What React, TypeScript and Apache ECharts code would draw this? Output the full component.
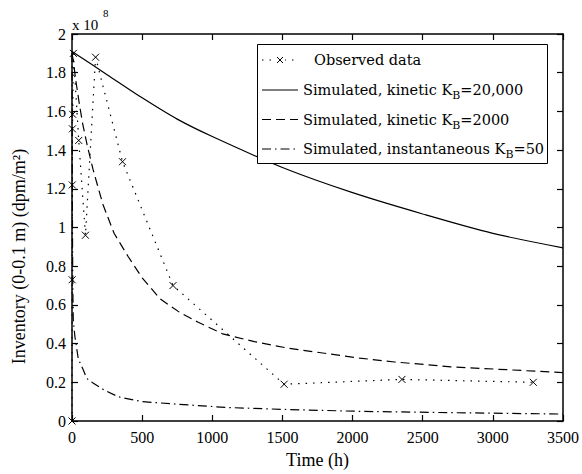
import React, { useEffect, useRef } from "react";
import * as echarts from "echarts";

// Values of the inventory are in units of 1e8 dpm/m^2
const xTicks = [0, 500, 1000, 1500, 2000, 2500, 3000, 3500];
const yTicks = [0, 0.2, 0.4, 0.6, 0.8, 1, 1.2, 1.4, 1.6, 1.8, 2];

const obsTime = [0, 1, 2, 3, 5, 10, 48, 96, 168, 360, 720, 1512, 2352, 3288];
const obsValue = [0, 0.73, 1.22, 1.51, 1.585, 1.9, 1.45, 0.96, 1.88, 1.34, 0.7, 0.19, 0.215, 0.2];

const k20000Time = [0, 250, 500, 750, 1000, 1500, 2000, 2500, 3000, 3500];
const k20000Value = [1.91, 1.79, 1.67, 1.56, 1.47, 1.31, 1.18, 1.07, 0.97, 0.895];

const k2000Time = [0, 10, 25, 50, 75, 110, 150, 220, 300, 400, 500, 630, 770, 900, 1075, 1300, 1550, 1800, 2050, 2300, 2700, 3100, 3500];
const k2000Value = [1.9, 1.86, 1.77, 1.65, 1.54, 1.42, 1.3, 1.12, 0.97, 0.85, 0.74, 0.63, 0.56, 0.51, 0.45, 0.41, 0.375, 0.35, 0.325, 0.305, 0.28, 0.265, 0.25];

const instTime = [0, 2, 4, 6, 9, 21, 45, 80, 105, 150, 230, 330, 500, 750, 1100, 1500, 2050, 2700, 3500];
const instValue = [1.9, 1.3, 0.9, 0.68, 0.52, 0.435, 0.32, 0.265, 0.22, 0.196, 0.16, 0.125, 0.1, 0.087, 0.07, 0.06, 0.05, 0.043, 0.036];

const seriesNames = [
  "Observed data",
  "Simulated, kinetic KB=20,000",
  "Simulated, kinetic KB=2000",
  "Simulated, instantaneous KB=50",
];

const zip = (a: number[], b: number[]) => a.map((v, i) => [v, b[i]]);

const FONT = "Liberation Serif";
const LFONT = "DejaVu Serif";

const DOT = [1.5, 6];
const DASH = [9, 5];
const DASHDOT = [9, 4, 1.5, 4];

export default function App() {
  const ref = useRef<HTMLDivElement>(null);
  useEffect(() => {
    if (!ref.current) return;
    const chart = echarts.init(ref.current, undefined, { renderer: "svg" });
    const axisCommon = {
      min: 0,
      axisLine: { show: true, onZero: false, lineStyle: { color: "#000", width: 1.5 } },
      axisTick: { show: true, inside: true, length: 6, lineStyle: { color: "#000", width: 1.2 } },
      splitLine: { show: false },
    };
    const xSpec = { ...axisCommon, type: "value", max: xTicks[xTicks.length - 1], interval: xTicks[1] - xTicks[0] };
    const ySpec = { ...axisCommon, type: "value", max: yTicks[yTicks.length - 1], interval: yTicks[1] - yTicks[0] };

    // Legend drawn as graphic elements (box, sample lines, rich texts with subscript B)
    const lgX = 257, lgY = 44, lgW = 290, lgH = 119;
    const rowY = [60, 90, 119.5, 149];
    const iconX0 = 262, iconX1 = 298, textX = 303;
    const dashes: (number[] | null)[] = [DOT, null, DASH, DASHDOT];
    const rich = {
      t: { fontFamily: LFONT, fontSize: 14.5, fill: "#000", color: "#000", lineHeight: 22 },
      s: { fontFamily: LFONT, fontSize: 11, fill: "#000", color: "#000", lineHeight: 10, verticalAlign: "bottom" },
    };
    const legendText = (name: string) => {
      if (name === seriesNames[0]) return "{t|Observed data}";
      const parts = name.split("KB");
      return `{t|${parts[0]}K}{s|B}{t|${parts[1]}}`;
    };
    const legendEls: any[] = [
      {
        type: "rect",
        z: 100,
        shape: { x: lgX + 0.5, y: lgY + 0.5, width: lgW, height: lgH },
        style: { fill: "#fff", stroke: "#000", lineWidth: 1 },
      },
    ];
    seriesNames.forEach((name, i) => {
      legendEls.push({
        type: "line",
        z: 101,
        shape: { x1: iconX0, y1: rowY[i], x2: iconX1, y2: rowY[i] },
        style: { stroke: "#000", lineWidth: 1.2, lineDash: dashes[i] || undefined },
      });
      legendEls.push({
        type: "text",
        z: 101,
        x: i === 0 ? textX + 11 : textX,
        y: rowY[i],
        style: {
          text: legendText(name),
          rich,
          font: `14.5px "${LFONT}"`,
          fill: "#000",
          align: "left",
          verticalAlign: "middle",
          textAlign: "left",
          textVerticalAlign: "middle",
        },
      });
    });
    const mx = (iconX0 + iconX1) / 2, my = rowY[0], ms = 3;
    legendEls.push(
      { type: "rect", z: 101, shape: { x: mx - 5, y: my - 4, width: 10, height: 8 }, style: { fill: "#fff" } },
      { type: "line", z: 102, shape: { x1: mx - ms, y1: my - ms, x2: mx + ms, y2: my + ms }, style: { stroke: "#000", lineWidth: 1 } },
      { type: "line", z: 102, shape: { x1: mx - ms, y1: my + ms, x2: mx + ms, y2: my - ms }, style: { stroke: "#000", lineWidth: 1 } }
    );

    chart.setOption({
      animation: false,
      backgroundColor: "#fff",
      textStyle: { fontFamily: FONT },
      grid: { left: 72, right: 18, top: 34, bottom: 49 },
      xAxis: [
        {
          ...xSpec,
          position: "bottom",
          name: "Time (h)",
          nameLocation: "middle",
          nameGap: 30,
          nameTextStyle: { fontFamily: FONT, fontSize: 18, color: "#000" },
          axisLabel: { fontFamily: FONT, fontSize: 16, color: "#000", margin: 8, formatter: (v: number) => String(v) },
        },
        { ...xSpec, position: "top", axisLabel: { show: false } },
      ],
      yAxis: [
        {
          ...ySpec,
          position: "left",
          name: "Inventory (0-0.1 m) (dpm/m²)",
          nameLocation: "middle",
          nameGap: 44,
          nameRotate: 90,
          nameTextStyle: { fontFamily: FONT, fontSize: 18, color: "#000", padding: [0, 58, 0, 0] },
          axisLabel: { fontFamily: FONT, fontSize: 16, color: "#000", margin: 6 },
        },
        { ...ySpec, position: "right", axisLabel: { show: false } },
      ],
      graphic: [
        { type: "text", left: 72, top: 17, style: { text: "x 10", font: `15px "${FONT}"`, fill: "#000" } },
        { type: "text", left: 103, top: 7, style: { text: "8", font: `11px "${FONT}"`, fill: "#000" } },
        ...legendEls,
      ],
      series: [
        {
          name: seriesNames[0],
          type: "line",
          data: zip(obsTime, obsValue),
          symbol: "path://M0,0L10,10M10,0L0,10",
          symbolSize: 7,
          showSymbol: true,
          itemStyle: { color: "rgba(0,0,0,0)", borderColor: "#000", borderWidth: 1 },
          lineStyle: { color: "#000", width: 1.2, type: DOT },
        },
        {
          name: seriesNames[1],
          type: "line",
          data: zip(k20000Time, k20000Value),
          symbol: "none",
          smooth: 0.3,
          itemStyle: { color: "#000" },
          lineStyle: { color: "#000", width: 1.2, type: "solid" },
        },
        {
          name: seriesNames[2],
          type: "line",
          data: zip(k2000Time, k2000Value),
          symbol: "none",
          itemStyle: { color: "#000" },
          lineStyle: { color: "#000", width: 1.2, type: DASH },
        },
        {
          name: seriesNames[3],
          type: "line",
          data: zip(instTime, instValue),
          symbol: "none",
          itemStyle: { color: "#000" },
          lineStyle: { color: "#000", width: 1.2, type: DASHDOT },
        },
      ],
    });
    return () => chart.dispose();
  }, []);
  return (
    <div
      ref={ref}
      style={{ position: "fixed", left: 0, top: 0, width: 582, height: 474, background: "#fff" }}
    />
  );
}
